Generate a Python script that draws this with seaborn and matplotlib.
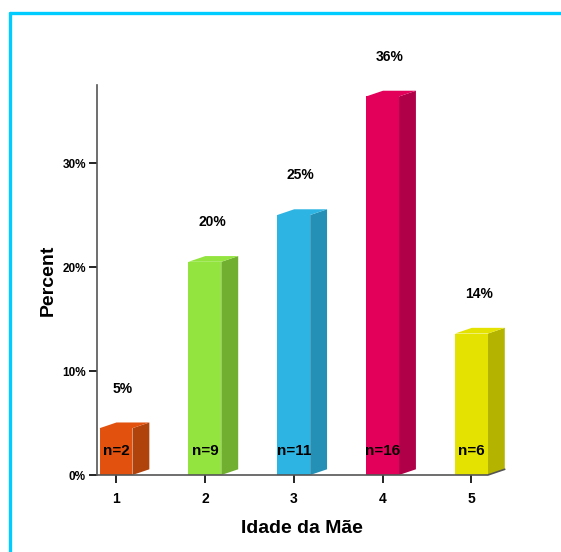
import matplotlib
matplotlib.use("Agg")
import matplotlib.pyplot as plt
import seaborn as sns
import pandas as pd
from matplotlib.patches import Polygon
from matplotlib.lines import Line2D

# dados
idades = ["1", "2", "3", "4", "5"]
contagens = [2, 9, 11, 16, 6]
percentuais = [4.5, 20.5, 25.0, 36.4, 13.6]
rotulos_pct = ["5%", "20%", "25%", "36%", "14%"]
cores_frente = ["#E2520E", "#93E43F", "#2DB4E3", "#E2005A", "#E3E200"]
cores_lado = ["#B0420C", "#71AF30", "#2490B6", "#B00047", "#B4B400"]

df = pd.DataFrame({"Idade": idades, "Percent": percentuais})

sns.set_style("white")
plt.rcParams["font.family"] = ["Liberation Sans", "DejaVu Sans"]
plt.rcParams["text.color"] = "black"
plt.rcParams["axes.labelcolor"] = "black"
plt.rcParams["xtick.color"] = "black"
plt.rcParams["ytick.color"] = "black"

fig = plt.figure(figsize=(5.61, 5.52), dpi=100)
ax = fig.add_axes([97 / 561, 1 - 475 / 552, 410 / 561, 390 / 552])

sns.barplot(data=df, x="Idade", y="Percent", hue="Idade", palette=cores_frente,
            legend=False, width=0.37, saturation=1, ax=ax, zorder=3)

# profundidade 3D (em unidades de dados)
dx, dy = 0.19, 0.55
for i, p in enumerate(ax.patches):
    x, w, h = p.get_x(), p.get_width(), p.get_height()
    p.set_edgecolor("none")
    lado = Polygon([(x + w, 0), (x + w + dx, dy), (x + w + dx, h + dy), (x + w, h)],
                   closed=True, facecolor=cores_lado[i], edgecolor="none", zorder=2)
    topo = Polygon([(x, h), (x + dx, h + dy), (x + w + dx, h + dy), (x + w, h)],
                   closed=True, facecolor=cores_frente[i], edgecolor="none", zorder=2)
    ax.add_patch(lado)
    ax.add_patch(topo)
    ax.text(i + 0.08, h + 3.8, rotulos_pct[i], ha="center", va="center",
            fontsize=10, fontweight="bold", color="black")
    ax.text(i, 2.3, f"n={contagens[i]}", ha="center", va="center",
            fontsize=11, fontweight="bold", color="black", zorder=4)

# linha do chao
ult = ax.patches[len(idades) - 1]
xr = ult.get_x() + ult.get_width()
ax.plot([-0.214, xr, xr + dx], [0, 0, dy], color="#555555", lw=1.2,
        clip_on=False, zorder=5)

ax.set_xlim(-0.214, 4.4)
ax.set_ylim(0, 37.5)
ax.set_yticks([0, 10, 20, 30])
ax.set_yticklabels(["0%", "10%", "20%", "30%"])
sns.despine(ax=ax, top=True, right=True, bottom=True)
ax.spines["left"].set_color("#555555")
ax.spines["left"].set_linewidth(1.2)
ax.tick_params(axis="y", length=6, width=1.2, pad=2, labelsize=8.5, left=True)
ax.tick_params(axis="x", length=6, width=1.2, pad=6, labelsize=10, bottom=True)
for t in ax.get_yticklabels() + ax.get_xticklabels():
    t.set_fontweight("bold")

ax.set_xlabel("Idade da Mãe", fontsize=14, fontweight="bold", labelpad=10)
ax.set_ylabel("Percent", fontsize=14, fontweight="bold", labelpad=4)
ax.set_facecolor("white")

# moldura ciano
fig.add_artist(Line2D([9.5 / 561, 1], [1 - 12.5 / 552, 1 - 12.5 / 552],
                      transform=fig.transFigure, color="#00CCFF", lw=2.4))
fig.add_artist(Line2D([9.5 / 561, 9.5 / 561], [0, 1 - 12.5 / 552],
                      transform=fig.transFigure, color="#00CCFF", lw=2.4))

fig.savefig("out.png", dpi=100, facecolor="white")
